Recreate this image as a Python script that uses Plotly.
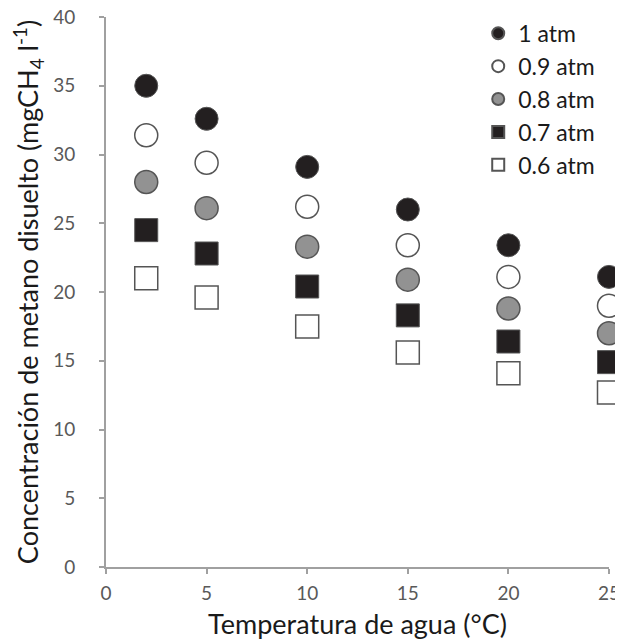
import plotly.graph_objects as go

temps = [2, 5, 10, 15, 20, 25]
labels = ["1 atm", "0.9 atm", "0.8 atm", "0.7 atm", "0.6 atm"]
c_1_0 = [35.0, 32.6, 29.1, 26.0, 23.4, 21.1]
c_0_9 = [31.4, 29.4, 26.2, 23.4, 21.1, 19.0]
c_0_8 = [28.0, 26.1, 23.3, 20.9, 18.8, 17.0]
c_0_7 = [24.5, 22.8, 20.4, 18.3, 16.4, 14.9]
c_0_6 = [21.0, 19.6, 17.5, 15.6, 14.1, 12.7]
yticks = [0, 5, 10, 15, 20, 25, 30, 35, 40]
xticks = [0, 5, 10, 15, 20, 25]

series = [c_1_0, c_0_9, c_0_8, c_0_7, c_0_6]
styles = [
    dict(symbol="circle", color="#231f20", line=dict(color="#555555", width=1)),
    dict(symbol="circle", color="#ffffff", line=dict(color="#555555", width=1.5)),
    dict(symbol="circle", color="#929292", line=dict(color="#555555", width=1.5)),
    dict(symbol="square", color="#231f20", line=dict(color="#555555", width=1)),
    dict(symbol="square", color="#ffffff", line=dict(color="#555555", width=1.5)),
]

FONT = "Lato"
fig = go.Figure()
for i, (lab, vals, st) in enumerate(zip(labels, series, styles)):
    fig.add_trace(go.Scatter(
        x=temps, y=vals, mode="markers", name=lab,
        legendgroup=f"g{i}",
        marker=dict(size=23, **st),
        cliponaxis=False,
    ))

# the page body adds an 8px offset, so the figure is sized 8px smaller
fig.update_layout(
    width=615, height=632,
    margin=dict(l=98, r=14, t=9, b=73, autoexpand=False),
    plot_bgcolor="white", paper_bgcolor="white",
    font=dict(family=FONT, color="#1a1a1a"),
    showlegend=True,
    legend=dict(
        x=0.74, y=0.994, yref="container", xanchor="left", yanchor="top",
        font=dict(size=23, family=FONT, color="#1a1a1a"),
        itemsizing="constant", tracegroupgap=0,
        bgcolor="rgba(0,0,0,0)",
    ),
    xaxis=dict(
        range=[0, 25], tickvals=xticks, showgrid=False, zeroline=False,
        showline=True, linecolor="#a0a0a0", linewidth=2,
        ticks="outside", ticklen=5, tickcolor="#a0a0a0", tickwidth=1.5,
        tickfont=dict(size=19, color="#595959"), automargin=False,
        ticklabelstandoff=3, ticklabeloverflow="allow",
        title=dict(text="Temperatura de agua (°C)", font=dict(size=27, color="#1a1a1a"), standoff=16),
    ),
    yaxis=dict(
        range=[0, 40], tickvals=yticks, showgrid=False, zeroline=False,
        showline=True, linecolor="#a0a0a0", linewidth=2,
        ticks="outside", ticklen=5, tickcolor="#a0a0a0", tickwidth=1.5,
        tickfont=dict(size=19, color="#595959"), automargin=False,
        ticklabelstandoff=20, ticklabeloverflow="allow",
        title=dict(text="Concentración de metano disuelto (mgCH<sub>4</sub> l<sup>-1</sup>)",
                   font=dict(size=27, color="#1a1a1a"), standoff=11),
    ),
)

fig.write_html("out.html")
